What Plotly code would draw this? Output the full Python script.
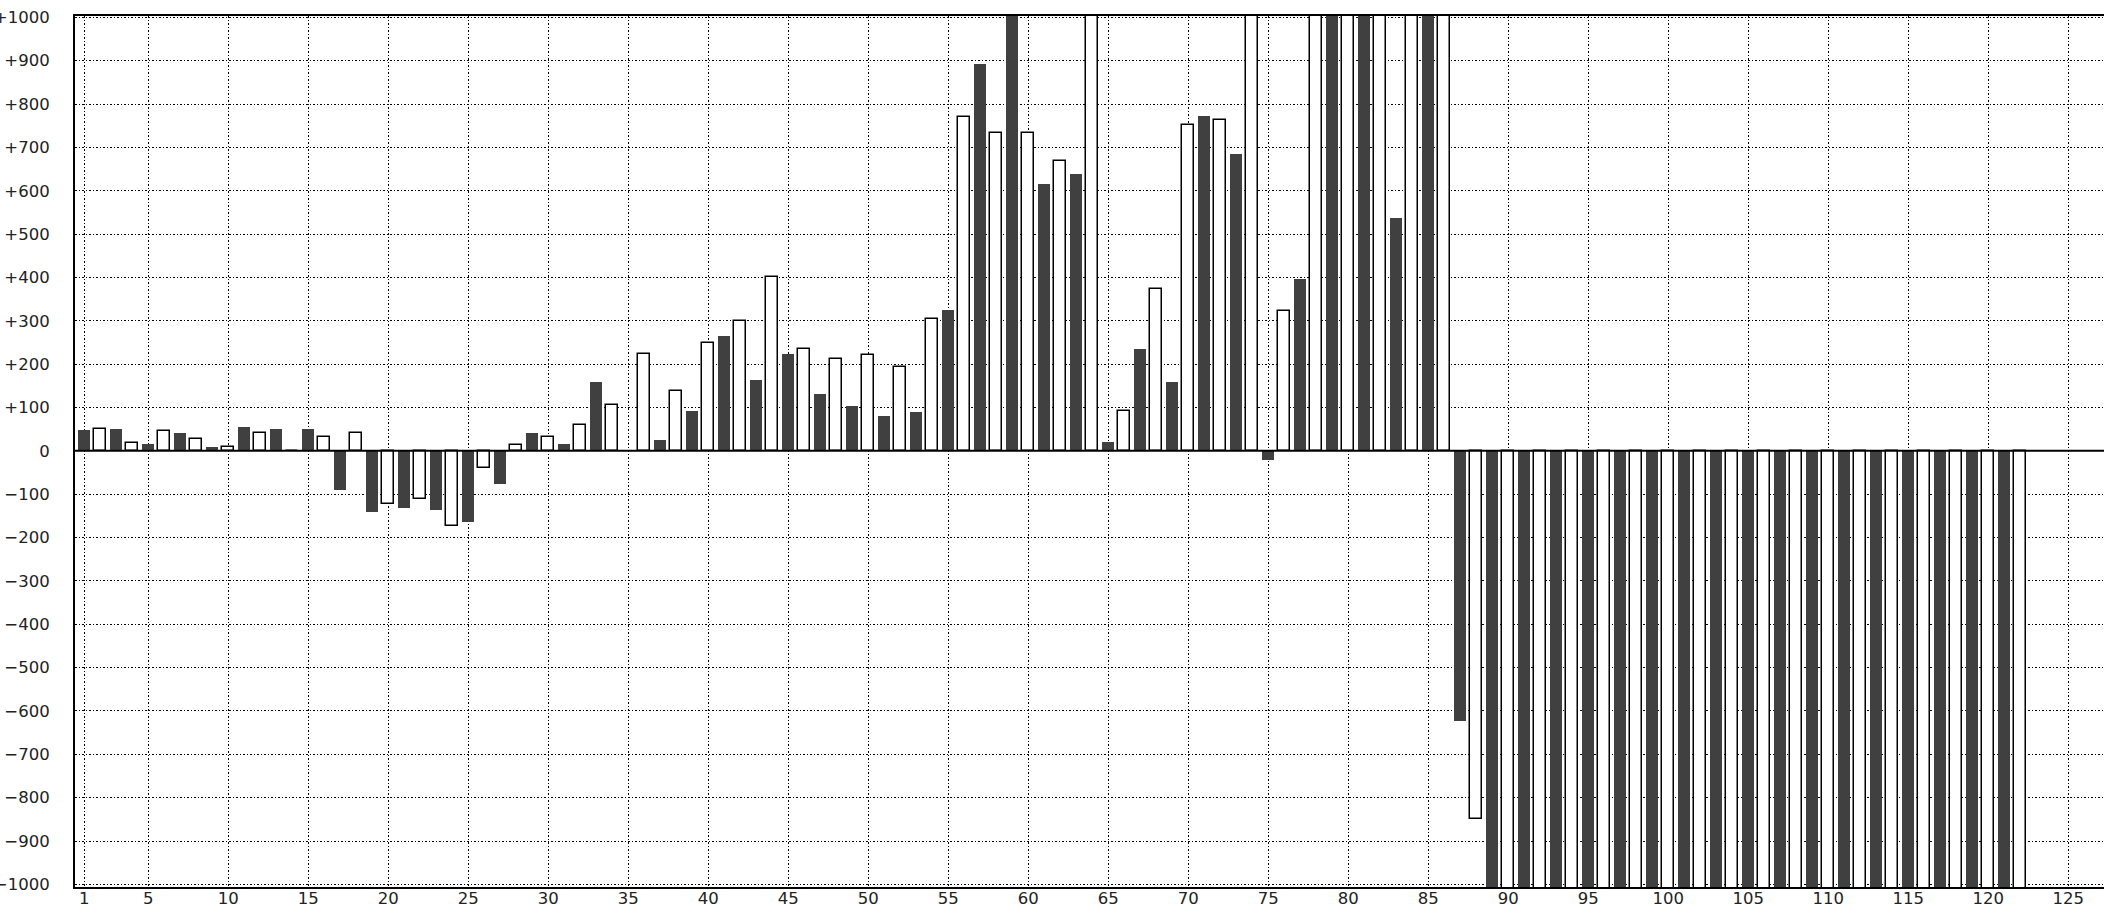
import plotly.graph_objects as go

# Series A (dark bars) at odd positions 1..121
dark_x = list(range(1, 122, 2))
dark_vals = [
    47, 51, 15, 42, 10, 56, 51, 51, -91, -141,            # 1..19
    -132, -137, -165, -77, 42, 15, 158, 0, 24, 93,        # 21..39
    264, 163, 223, 130, 103, 80, 89, 324, 892, 1100,      # 41..59
    615, 638, 20, 236, 158, 772, 684, -20, 397, 1100,     # 61..79
    1100, 536, 1100, -622, -1100, -1100, -1100, -1100, -1100, -1100,  # 81..99
    -1100, -1100, -1100, -1100, -1100, -1100, -1100, -1100, -1100, -1100,  # 101..119
    -1100,                                                 # 121
]

# Series B (white bars) at even positions 2..122
white_x = list(range(2, 123, 2))
white_vals = [
    50, 18, 46, 27, 8.5, 41.5, 0, 31.5, 41.5, -122,       # 2..20
    -112, -173, -39, 14, 31.5, 60, 106, 223, 138, 249,    # 22..40
    300, 401, 235, 212, 221, 194, 304, 770, 733, 733,     # 42..60
    669, 1100, 92, 373, 752, 762, 1100, 323, 1100, 1100,  # 62..80
    1100, 1100, 1100, -849, -1100, -1100, -1100, -1100, -1100, -1100,  # 82..100
    -1100, -1100, -1100, -1100, -1100, -1100, -1100, -1100, -1100, -1100,  # 102..120
    -1100,                                                 # 122
]

x_ticks = [1] + list(range(5, 126, 5))
y_ticks = list(range(-1000, 1001, 100))
y_ticktext = [("+%d" % v) if v > 0 else ("0" if v == 0 else "\u2212%d" % (-v)) for v in y_ticks]

fig = go.Figure()
fig.add_trace(go.Bar(
    x=dark_x, y=dark_vals, width=0.75,
    marker=dict(color="#404040", line=dict(width=0)),
    showlegend=False,
))
fig.add_trace(go.Bar(
    x=white_x, y=white_vals, width=0.75,
    marker=dict(color="#ffffff", line=dict(color="#000000", width=1.5)),
    showlegend=False,
))

fig.add_hline(y=0, line=dict(color="#000000", width=2), layer="above")

font = dict(family="DejaVu Sans", size=16.5, color="#222222")

fig.update_layout(
    width=2104, height=908,
    margin=dict(l=75, r=0, t=16, b=21, pad=0),
    paper_bgcolor="white", plot_bgcolor="white",
    barmode="overlay",
    bargap=0,
    font=font,
    hovermode=False,
    xaxis=dict(
        range=[0.42, 127.23], automargin=False,
        tickmode="array", tickvals=x_ticks, ticktext=[str(v) for v in x_ticks],
        showgrid=True, gridcolor="#000000", gridwidth=1.2, griddash="1.5px,2px",
        showline=True, linecolor="#000000", linewidth=2, mirror=True,
        ticks="", zeroline=False, tickfont=font, ticklabelstandoff=-5,
    ),
    yaxis=dict(
        range=[-1006, 1003], automargin=False,
        tickmode="array", tickvals=y_ticks, ticktext=y_ticktext,
        showgrid=True, gridcolor="#000000", gridwidth=1.2, griddash="1.5px,2px",
        showline=True, linecolor="#000000", linewidth=2, mirror=False,
        ticks="", zeroline=False, tickfont=font, ticklabelstandoff=20,
    ),
)

fig.write_html(
    "out.html",
    config={"displayModeBar": False},
    post_script="document.body.style.margin='0';document.body.style.overflow='hidden';",
)
